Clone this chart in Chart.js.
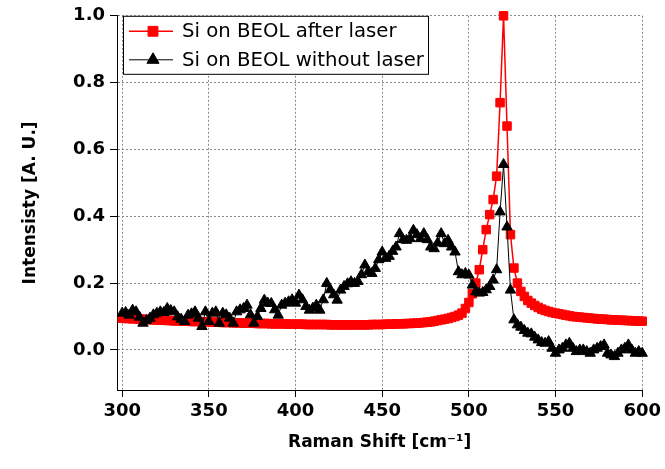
<!DOCTYPE html>
<html>
<head>
<title>Raman Si on BEOL</title>
<script src="https://cdn.jsdelivr.net/npm/chart.js@4"></script>
<meta name="viewport" content="width=device-width, initial-scale=1.0">
<style>
  html, body { margin: 0; padding: 0; background: #fff; }
  canvas { display: block; }
</style>
</head>
<body>

<canvas id="ramanChart" width="665" height="469"></canvas>

<script>
  // Raman shift in cm-1
  const ramanShift = [
    300, 302, 304, 306, 308, 310, 312, 314, 316, 318,
    320, 322, 324, 326, 328, 330, 332, 334, 336, 338,
    340, 342, 344, 346, 348, 350, 352, 354, 356, 358,
    360, 362, 364, 366, 368, 370, 372, 374, 376, 378,
    380, 382, 384, 386, 388, 390, 392, 394, 396, 398,
    400, 402, 404, 406, 408, 410, 412, 414, 416, 418,
    420, 422, 424, 426, 428, 430, 432, 434, 436, 438,
    440, 442, 444, 446, 448, 450, 452, 454, 456, 458,
    460, 462, 464, 466, 468, 470, 472, 474, 476, 478,
    480, 482, 484, 486, 488, 490, 492, 494, 496, 498,
    500, 502, 504, 506, 508, 510, 512, 514, 516, 518,
    520, 522, 524, 526, 528, 530, 532, 534, 536, 538,
    540, 542, 544, 546, 548, 550, 552, 554, 556, 558,
    560, 562, 564, 566, 568, 570, 572, 574, 576, 578,
    580, 582, 584, 586, 588, 590, 592, 594, 596, 598,
    600
  ];

  const afterLaser = [
    0.095, 0.094, 0.094, 0.093, 0.093, 0.092, 0.092, 0.091, 0.091, 0.090,
    0.090, 0.089, 0.089, 0.088, 0.088, 0.087, 0.087, 0.087, 0.086, 0.086,
    0.085, 0.085, 0.085, 0.084, 0.084, 0.084, 0.083, 0.083, 0.083, 0.082,
    0.082, 0.082, 0.081, 0.081, 0.081, 0.080, 0.080, 0.080, 0.080, 0.079,
    0.079, 0.079, 0.079, 0.078, 0.078, 0.078, 0.078, 0.078, 0.077, 0.077,
    0.077, 0.077, 0.077, 0.076, 0.076, 0.076, 0.076, 0.076, 0.076, 0.076,
    0.075, 0.075, 0.075, 0.075, 0.075, 0.075, 0.075, 0.075, 0.075, 0.075,
    0.075, 0.075, 0.076, 0.076, 0.076, 0.076, 0.077, 0.077, 0.077, 0.078,
    0.078, 0.078, 0.079, 0.079, 0.080, 0.080, 0.081, 0.082, 0.083, 0.084,
    0.086, 0.088, 0.090, 0.092, 0.094, 0.097, 0.100, 0.104, 0.110, 0.124,
    0.142, 0.168, 0.200, 0.240, 0.300, 0.360, 0.405, 0.450, 0.520, 0.740,
    1.000, 0.670, 0.345, 0.245, 0.200, 0.175, 0.160, 0.148, 0.140, 0.133,
    0.127, 0.122, 0.118, 0.115, 0.112, 0.110, 0.108, 0.106, 0.104, 0.102,
    0.100, 0.099, 0.098, 0.097, 0.096, 0.095, 0.094, 0.093, 0.092, 0.092,
    0.091, 0.090, 0.090, 0.089, 0.089, 0.088, 0.088, 0.087, 0.087, 0.086,
    0.086
  ];

  const withoutLaser = [
    0.110, 0.112, 0.104, 0.119, 0.114, 0.098, 0.080, 0.088, 0.095, 0.105,
    0.110, 0.114, 0.112, 0.124, 0.118, 0.114, 0.099, 0.092, 0.085, 0.104,
    0.108, 0.114, 0.095, 0.070, 0.114, 0.085, 0.110, 0.114, 0.080, 0.110,
    0.105, 0.095, 0.080, 0.114, 0.120, 0.124, 0.134, 0.105, 0.080, 0.100,
    0.124, 0.149, 0.140, 0.139, 0.120, 0.104, 0.134, 0.140, 0.144, 0.150,
    0.140, 0.164, 0.150, 0.130, 0.119, 0.125, 0.134, 0.119, 0.150, 0.199,
    0.180, 0.165, 0.149, 0.179, 0.190, 0.198, 0.204, 0.199, 0.205, 0.225,
    0.254, 0.235, 0.229, 0.244, 0.270, 0.293, 0.274, 0.280, 0.295, 0.308,
    0.348, 0.330, 0.328, 0.333, 0.358, 0.345, 0.333, 0.348, 0.330, 0.308,
    0.303, 0.320, 0.348, 0.318, 0.328, 0.308, 0.293, 0.234, 0.225, 0.229,
    0.224, 0.194, 0.174, 0.170, 0.172, 0.180, 0.190, 0.209, 0.240, 0.413,
    0.555, 0.368, 0.179, 0.090, 0.075, 0.068, 0.058, 0.050, 0.048, 0.038,
    0.030, 0.022, 0.020, 0.025, 0.005, -0.010, 0.000, 0.005, 0.015, 0.020,
    0.005, -0.005, 0.000, 0.000, -0.005, -0.010, 0.000, 0.005, 0.010, 0.015,
    -0.010, -0.015, -0.020, -0.010, 0.000, 0.005, 0.015, 0.000, -0.010, -0.005,
    -0.010
  ];

  const seriesLabels = ['Si on BEOL after laser', 'Si on BEOL without laser'];
  const xTicks = [300, 350, 400, 450, 500, 550, 600];
  const yTicks = [0.0, 0.2, 0.4, 0.6, 0.8, 1.0];

  const toPoints = ys => ramanShift.map((x, i) => ({ x: x, y: ys[i] }));

  // legend drawn inside the plot, top left, with a frame
  const boxedLegend = {
    id: 'boxedLegend',
    afterDraw(chart) {
      const { ctx, chartArea } = chart;
      const x0 = chartArea.left + 6;
      const y0 = chartArea.top;
      ctx.save();
      ctx.font = '19.7px "DejaVu Sans"';
      const textW = Math.max(...seriesLabels.map(t => ctx.measureText(t).width));
      const bw = Math.round(59 + textW + 4);
      const bh = 58;
      ctx.fillStyle = '#fff';
      ctx.fillRect(x0, y0, bw, bh);
      ctx.strokeStyle = '#000';
      ctx.lineWidth = 1;
      ctx.strokeRect(x0 + 0.5, y0 + 0.5, bw, bh);

      chart.data.datasets.forEach((ds, i) => {
        const yc = y0 + 15.5 + i * 28.5;
        ctx.strokeStyle = ds.borderColor;
        ctx.lineWidth = ds.borderWidth;
        ctx.beginPath();
        ctx.moveTo(x0 + 6, yc);
        ctx.lineTo(x0 + 50, yc);
        ctx.stroke();
        ctx.fillStyle = ds.pointBackgroundColor;
        ctx.strokeStyle = ds.pointBorderColor;
        ctx.lineWidth = 1;
        Chart.helpers.drawPoint(ctx, {
          pointStyle: ds.pointStyle, radius: ds.pointRadius + 1, rotation: 0, borderWidth: 1
        }, x0 + 30, yc);
        ctx.fillStyle = '#000';
        ctx.textBaseline = 'middle';
        ctx.textAlign = 'left';
        ctx.fillText(seriesLabels[i], x0 + 59, yc + 1);
      });
      ctx.restore();
    }
  };

  const tickFont = { family: 'DejaVu Sans', size: 18, weight: 'bold' };
  const titleFont = { family: 'DejaVu Sans', size: 17, weight: 'bold' };

  const ctx = document.getElementById('ramanChart').getContext('2d');
  const ramanChart = new Chart(ctx, {
    type: 'line',
    data: {
      datasets: [{
        label: seriesLabels[0],
        data: toPoints(afterLaser),
        borderColor: '#ff0000',
        backgroundColor: '#ff0000',
        pointBackgroundColor: '#ff0000',
        pointBorderColor: '#ff0000',
        pointStyle: 'rect',
        pointRadius: 6,
        pointBorderWidth: 1,
        borderWidth: 1.5,
        order: 2,
        clip: false
      }, {
        label: seriesLabels[1],
        data: toPoints(withoutLaser),
        borderColor: '#000000',
        backgroundColor: '#000000',
        pointBackgroundColor: '#000000',
        pointBorderColor: '#000000',
        pointStyle: 'triangle',
        pointRadius: 6,
        pointBorderWidth: 1,
        borderWidth: 1,
        order: 1,
        clip: false
      }]
    },
    options: {
      responsive: false,
      animation: false,
      layout: { padding: { left: 0, top: 15, right: 22, bottom: 0 } },
      plugins: {
        legend: { display: false },
        tooltip: { enabled: false }
      },
      scales: {
        x: {
          type: 'linear',
          min: 297,
          max: 600,
          afterBuildTicks: s => { s.ticks = xTicks.map(v => ({ value: v })); },
          afterFit: s => { s.height = 79; },
          grid: { color: '#8a8a8a', lineWidth: 1, tickLength: 7, tickColor: '#000', tickWidth: 1 },
          border: { display: true, color: '#000', width: 1, dash: [2, 2] },
          ticks: { color: '#000', font: tickFont, padding: 4, maxRotation: 0, callback: v => String(v) },
          title: {
            display: true,
            text: 'Raman Shift [cm\u207B\u00B9]',
            color: '#000',
            font: titleFont,
            padding: { top: 0, bottom: 16 }
          }
        },
        y: {
          min: -0.12,
          max: 1.0,
          afterBuildTicks: s => { s.ticks = yTicks.map(v => ({ value: v })); },
          afterFit: s => { s.width = 117; },
          grid: { color: '#8a8a8a', lineWidth: 1, tickLength: 7, tickColor: '#000', tickWidth: 1 },
          border: { display: true, color: '#000', width: 1, dash: [2, 2] },
          ticks: { color: '#000', font: tickFont, padding: 5, callback: v => v.toFixed(1) },
          title: {
            display: true,
            text: 'Intensisty [A. U.]',
            color: '#000',
            font: titleFont,
            padding: { top: 20, bottom: 0 }
          }
        }
      }
    },
    plugins: [boxedLegend]
  });
</script>

</body>
</html>
